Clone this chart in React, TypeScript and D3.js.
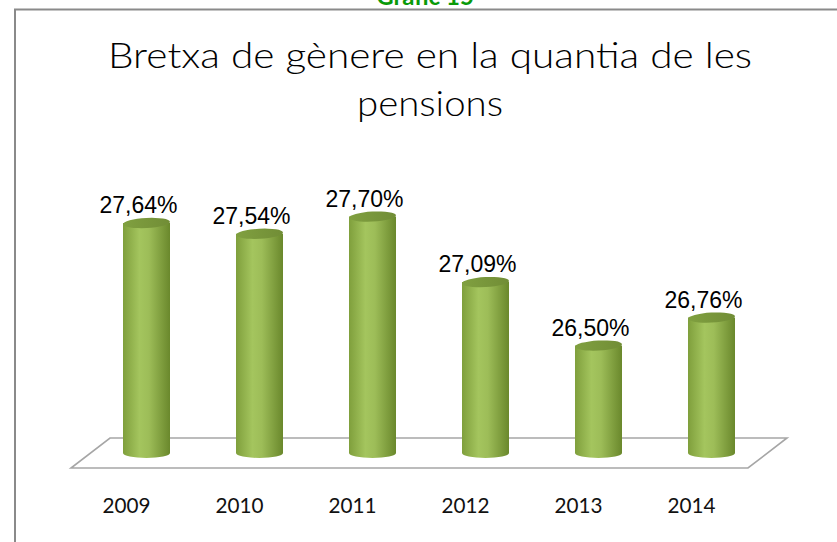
import React from 'react';
import * as d3 from 'd3';

const years = ['2009', '2010', '2011', '2012', '2013', '2014'];
const gapValues = [27.64, 27.54, 27.7, 27.09, 26.5, 26.76];
const valueLabels = ['27,64%', '27,54%', '27,70%', '27,09%', '26,50%', '26,76%'];

const width = 837;
const height = 542;
const barWidth = 47;
const ry = 5;

const App: React.FC = () => {
    const x = d3.scalePoint<string>().domain(years).range([146.5, 711.5]);
    const y = d3.scaleLinear().domain([25.5, 28]).range([453, 184.3]);
    const base = y(25.5);

    // floor in fake perspective
    const first = x(years[0]) as number;
    const last = x(years[years.length - 1]) as number;
    const floor = d3.path();
    floor.moveTo(first - 36.5, base - 15);
    floor.lineTo(last + 75.5, base - 15);
    floor.lineTo(last + 36.5, base + 15);
    floor.lineTo(first - 75.5, base + 15);
    floor.closePath();

    return (
        <svg width={width} height={height} style={{ position: 'absolute', left: 0, top: 0, background: '#fff' }}>
            <defs>
                <linearGradient id="cyl" x1="0" x2="1" y1="0" y2="0">
                    <stop offset="0" stopColor="#7f9f3c" />
                    <stop offset="0.35" stopColor="#a4c55e" />
                    <stop offset="0.55" stopColor="#9dbd58" />
                    <stop offset="1" stopColor="#6a882c" />
                </linearGradient>
                <linearGradient id="cylTop" x1="0" x2="1" y1="0" y2="0">
                    <stop offset="0" stopColor="#80a040" />
                    <stop offset="1" stopColor="#718d36" />
                </linearGradient>
            </defs>

            <text x={425} y={5} textAnchor="middle" fontFamily="Lato, sans-serif" fontWeight="bold"
                fontSize={24} fill="#0a9a0a">Gràfic 15</text>

            <path d="M15,542 L15,9.5 L837,9.5" fill="none" stroke="#8a8a8a" strokeWidth={2} />

            <text x={430} y={68} textAnchor="middle" fontFamily="Lato, sans-serif" fontWeight={300}
                fontSize={35} fill="#000" textLength={644} lengthAdjust="spacingAndGlyphs">
                Bretxa de gènere en la quantia de les
            </text>
            <text x={430} y={116} textAnchor="middle" fontFamily="Lato, sans-serif" fontWeight={300}
                fontSize={35} fill="#000" textLength={146} lengthAdjust="spacingAndGlyphs">
                pensions
            </text>

            <path d={floor.toString()} fill="#fff" stroke="#a6a6a6" strokeWidth={1.6} />

            {years.map((yr, i) => {
                const cx = x(yr) as number;
                const x0 = cx - barWidth / 2;
                const x1 = cx + barWidth / 2;
                const top = y(gapValues[i]);
                const body = `M${x0},${top} L${x0},${base} A${barWidth / 2},${ry} 0 0 0 ${x1},${base} L${x1},${top} Z`;
                return (
                    <g key={yr}>
                        <path d={body} fill="url(#cyl)" />
                        <ellipse cx={cx} cy={top} rx={barWidth / 2} ry={ry} fill="url(#cylTop)"
                            transform={`rotate(-3 ${cx} ${top})`} />
                        <text x={cx - 8} y={top - 10} textAnchor="middle"
                            fontFamily="'Liberation Sans', Arial, sans-serif" fontSize={23} fill="#000">
                            {valueLabels[i]}
                        </text>
                        <text x={cx - 20} y={513} textAnchor="middle" fontFamily="Lato, sans-serif"
                            fontSize={21} fill="#111" textLength={48} lengthAdjust="spacingAndGlyphs">
                            {yr}
                        </text>
                    </g>
                );
            })}
        </svg>
    );
};

export default App;
